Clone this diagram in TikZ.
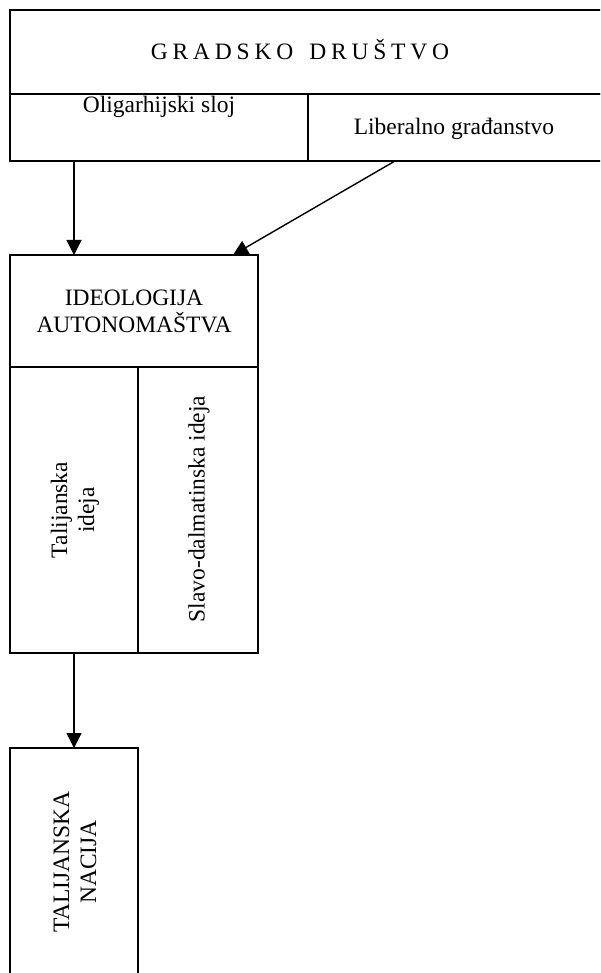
\documentclass[tikz,border=0pt]{standalone}
\usepackage{fontspec}
\setmainfont{Liberation Serif}
\usetikzlibrary{fit,arrows.meta,calc}
\newcommand{\lsp}{\hspace{4.8pt}}
\begin{document}
\begin{tikzpicture}[x=1pt,y=-1pt,
  cell/.style={draw, line width=1.7pt, rectangle, inner sep=0pt, outer sep=0pt},
  txt/.style={inner sep=0pt, align=center, font=\fontsize{23.5}{27}\selectfont},
  arr/.style={line width=1.4pt, -{Triangle[length=15pt,width=15pt]}}]
\useasboundingbox (0,0) rectangle (600,973);
\clip (0,0) rectangle (600,973);
% cells
\node[cell, fit={(10,10) (603,94)}] (gd) {};
\node[cell, fit={(10,94) (308,161)}] (olig) {};
\node[cell, fit={(308,94) (603,161)}] (lib) {};
\node[cell, fit={(10,255) (258,367)}] (ideo) {};
\node[cell, fit={(10,367) (138,653)}] (tal) {};
\node[cell, fit={(138,367) (258,653)}] (slavo) {};
\node[cell, fit={(10,748) (138,980)}] (nac) {};
% texts
\node[txt, anchor=base] (gdt) at (300,60) {G\lsp R\lsp A\lsp D\lsp S\lsp K\lsp O\hspace{16pt}D\lsp R\lsp U\lsp Š\lsp T\lsp V\lsp O};
\node[txt, anchor=base] (oligt) at (159,113) {Oligarhijski sloj};
\node[txt, anchor=base] (libt) at (454,135) {Liberalno građanstvo};
\node[txt] (ideot) at (134,311) {IDEOLOGIJA\\AUTONOMAŠTVA};
\node[txt, rotate=90] (talt) at (75,510) {Talijanska\\ideja};
\node[txt, rotate=90] (slavot) at (199,509) {Slavo-dalmatinska ideja};
\node[txt, rotate=90] (nact) at (75,862) {TALIJANSKA\\NACIJA};
% arrows
\draw[arr] (olig.south -| tal.north) -- (ideo.north -| tal.north);
\draw[arr] ($(lib.south west)+(87,0)$) -- ($(ideo.north east)+(-25,0)$);
\draw[arr] (tal.south) -- (nac.north);
\end{tikzpicture}
\end{document}
